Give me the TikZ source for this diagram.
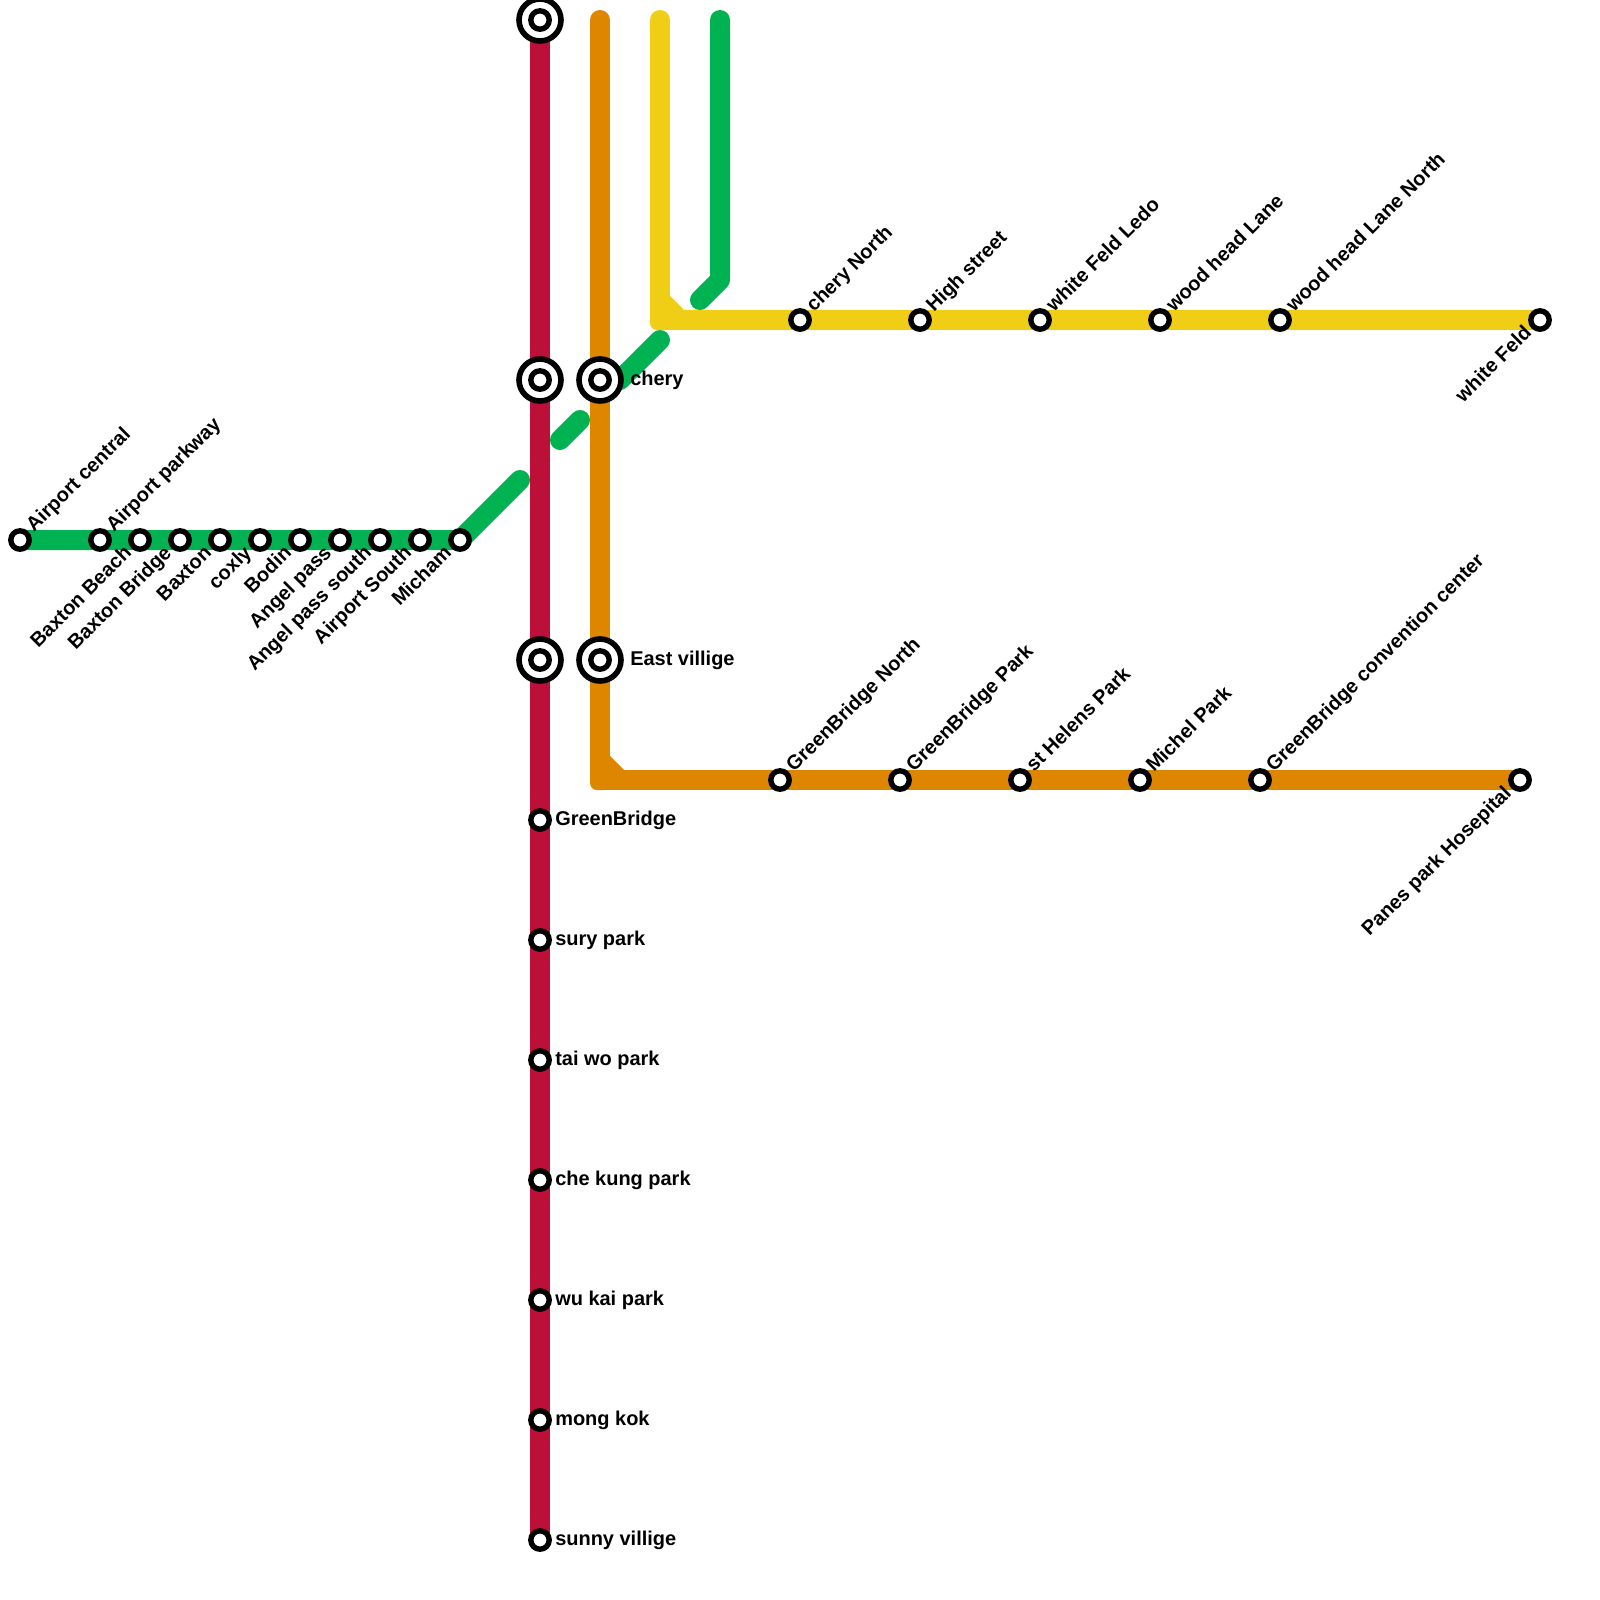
\documentclass[tikz,border=0pt]{standalone}
\usepackage{fontspec}
\setmainfont{Liberation Sans}
\usetikzlibrary{backgrounds}
\definecolor{linered}{HTML}{BD1038}
\definecolor{lineorange}{HTML}{DF8600}
\definecolor{lineyellow}{HTML}{F0CE15}
\definecolor{linegreen}{HTML}{00B251}

\begin{document}
\begin{tikzpicture}[
    x=0.5cm, y=-0.5cm,
    route/.style={line width=0.5cm, line cap=round, line join=round},
    elbow/.style={route, line join=bevel},
    chamfer/.style={line width=0.5cm, line cap=butt},
    corner/.style={rectangle, minimum size=0.5cm, inner sep=0pt, rounded corners=0.175cm},
    station/.style={circle, draw=black, fill=white, line width=0.135cm, minimum size=0.46cm, inner sep=0pt},
    ring/.style={circle, draw=black, fill=white, line width=0.14cm, minimum size=1.05cm, inner sep=0pt},
    side/.style={font=\fontsize{14.2}{16}\selectfont\bfseries, inner sep=0pt, anchor=base west},
    up/.style={side, rotate=45},
    down/.style={font=\fontsize{14.2}{16}\selectfont\bfseries, inner sep=0pt, anchor=base east, rotate=45},
  ]
    \useasboundingbox (0,0) rectangle (80,80);

    % red line
    \node[ring] (rx1) at (27,1) {};
    \node[station] (r1) at (27,1) {};
    \node[ring] (rx2) at (27,19) {};
    \node[station] (r2) at (27,19) {};
    \node[ring] (rx3) at (27,33) {};
    \node[station] (r3) at (27,33) {};
    \node[station] (r4) at (27,41) {};
    \node[station] (r5) at (27,47) {};
    \node[station] (r6) at (27,53) {};
    \node[station] (r7) at (27,59) {};
    \node[station] (r8) at (27,65) {};
    \node[station] (r9) at (27,71) {};
    \node[station] (r10) at (27,77) {};

    \node[side] (lr4) at (27.75,41.28) {GreenBridge};
    \node[side] (lr5) at (27.75,47.28) {sury park};
    \node[side] (lr6) at (27.75,53.28) {tai wo park};
    \node[side] (lr7) at (27.75,59.28) {che kung park};
    \node[side] (lr8) at (27.75,65.28) {wu kai park};
    \node[side] (lr9) at (27.75,71.28) {mong kok};
    \node[side] (lr10) at (27.75,77.28) {sunny villige};

    % orange line
    \coordinate (otop) at (30,1);
    \node[ring] (ox1) at (30,19) {};
    \node[station] (o1) at (30,19) {};
    \node[ring] (ox2) at (30,33) {};
    \node[station] (o2) at (30,33) {};
    \node[station] (o3) at (39,39) {};
    \node[station] (o4) at (45,39) {};
    \node[station] (o5) at (51,39) {};
    \node[station] (o6) at (57,39) {};
    \node[station] (o7) at (63,39) {};
    \node[station] (o8) at (76,39) {};

    \node[side] (lo1) at (31.5,19.25) {chery};
    \node[side] (lo2) at (31.5,33.25) {East villige};
    \node[up] (lo3) at (39.7,38.65) {GreenBridge North};
    \node[up] (lo4) at (45.7,38.65) {GreenBridge Park};
    \node[up] (lo5) at (51.7,38.65) {st Helens Park};
    \node[up] (lo6) at (57.7,38.65) {Michel Park};
    \node[up] (lo7) at (63.7,38.65) {GreenBridge convention center};
    \node[down] (lo8) at (75.63,39.7) {Panes park Hosepital};

    % yellow line
    \coordinate (ytop) at (33,1);
    \node[station] (y1) at (40,16) {};
    \node[station] (y2) at (46,16) {};
    \node[station] (y3) at (52,16) {};
    \node[station] (y4) at (58,16) {};
    \node[station] (y5) at (64,16) {};
    \node[station] (y6) at (77,16) {};

    \node[up] (ly1) at (40.7,15.65) {chery North};
    \node[up] (ly2) at (46.7,15.65) {High street};
    \node[up] (ly3) at (52.7,15.65) {white Feld Ledo};
    \node[up] (ly4) at (58.7,15.65) {wood head Lane};
    \node[up] (ly5) at (64.7,15.65) {wood head Lane North};
    \node[down] (ly6) at (76.63,16.7) {white Feld};

    % green line
    \node[station] (g1) at (1,27) {};
    \node[station] (g2) at (5,27) {};
    \node[station] (g3) at (7,27) {};
    \node[station] (g4) at (9,27) {};
    \node[station] (g5) at (11,27) {};
    \node[station] (g6) at (13,27) {};
    \node[station] (g7) at (15,27) {};
    \node[station] (g8) at (17,27) {};
    \node[station] (g9) at (19,27) {};
    \node[station] (g10) at (21,27) {};
    \node[station] (g11) at (23,27) {};

    \node[up] (lg1) at (1.7,26.65) {Airport central};
    \node[up] (lg2) at (5.7,26.65) {Airport parkway};
    \node[down] (lg3) at (6.63,27.7) {Baxton Beach};
    \node[down] (lg4) at (8.63,27.7) {Baxton Bridge};
    \node[down] (lg5) at (10.63,27.7) {Baxton};
    \node[down] (lg6) at (12.63,27.7) {coxly};
    \node[down] (lg7) at (14.63,27.7) {Bodin};
    \node[down] (lg8) at (16.63,27.7) {Angel pass};
    \node[down] (lg9) at (18.63,27.7) {Angel pass south};
    \node[down] (lg10) at (20.63,27.7) {Airport South};
    \node[down] (lg11) at (22.63,27.7) {Micham};

    \coordinate (ga) at (26,24);
    \coordinate (gb) at (28,22);
    \coordinate (gc) at (29,21);
    \coordinate (gd) at (31,19);
    \coordinate (ge) at (33,17);
    \coordinate (gf) at (35,15);
    \coordinate (gg) at (36,14);
    \coordinate (gh) at (36,1);

    \coordinate (oa) at (30,38);
    \coordinate (ob) at (31,39);
    \coordinate (ya) at (33,15);
    \coordinate (yb) at (34,16);

    \begin{scope}[on background layer]
      \draw[route, linegreen] (g1.center) -- (g11.center) -- (ga);
      \draw[route, linegreen] (gb) -- (gc);
      \draw[route, linegreen] (gd) -- (ge);
      \draw[route, linegreen] (gf) -- (gg) -- (gh);

      \node[corner, fill=lineyellow] (yc) at (33,16) {};
      \draw[elbow, lineyellow] (ytop) -- (yc.center) -- (y6.center);
      \draw[chamfer, lineyellow] (ya) -- (yb);

      \node[corner, fill=lineorange] (oc) at (30,39) {};
      \draw[elbow, lineorange] (otop) -- (oc.center) -- (o8.center);
      \draw[chamfer, lineorange] (oa) -- (ob);

      \draw[route, linered] (r1.center) -- (r10.center);
    \end{scope}
  \end{tikzpicture}
\end{document}
